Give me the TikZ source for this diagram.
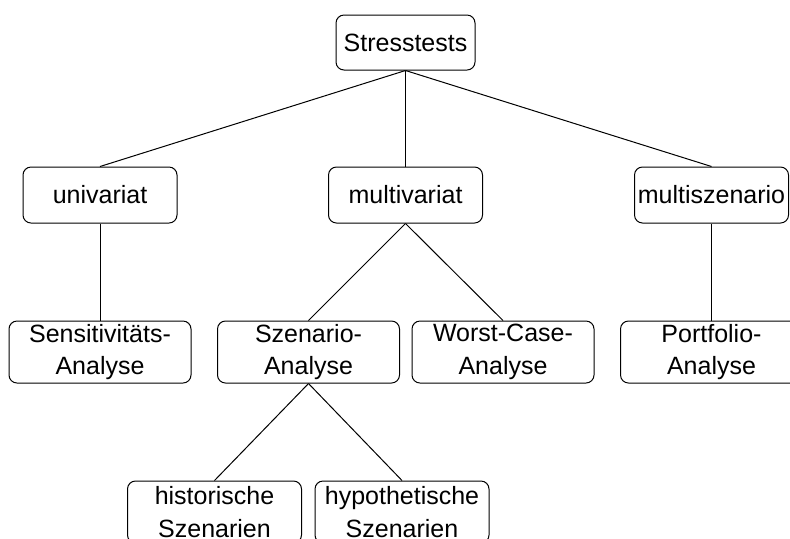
\documentclass[tikz,border=0pt]{standalone}
\usepackage{fontspec}
\setmainfont{Liberation Sans}

\newcommand\boxfont{\fontsize{12.5pt}{16.3pt}\selectfont}
\newcommand\rowa{42.5}
\newcommand\rowb{195}
\newcommand\rowc{352}
\newcommand\rowd{512}

\tikzset{
  treebox/.style={draw, line width=0.5pt, rounded corners=4pt, align=center,
    inner sep=0pt, font=\boxfont},
  toplevel/.style={treebox, minimum width=69.5pt, minimum height=27.5pt},
  kindbox/.style={treebox, minimum width=77pt, minimum height=28pt},
  methodbox/.style={treebox, minimum width=91pt, minimum height=31pt},
  sourcebox/.style={treebox, minimum width=87pt, minimum height=31pt},
  branch/.style={line width=0.5pt}
}

\begin{document}
\begin{tikzpicture}[x=0.5pt,y=-0.5pt]
    \useasboundingbox (0,0) rectangle (790,538);
    \clip (0,0) rectangle (790,538);

    \node[toplevel] (stress) at (405.5,\rowa) {Stresstests};

    \node[kindbox] (uni) at (100,\rowb) {univariat};
    \node[kindbox] (multi) at (405.5,\rowb) {multivariat};
    \node[kindbox] (multisz) at (711.5,\rowb) {multiszenario};

    \node[methodbox] (sens) at (100,\rowc) {Sensitivitäts-\\ Analyse};
    \node[methodbox] (szen) at (308.5,\rowc) {Szenario-\\ Analyse};
    \node[methodbox] (worst) at (503,\rowc) {Worst-Case-\\ Analyse};
    \node[methodbox] (portf) at (711.5,\rowc) {Portfolio-\\ Analyse};

    \node[sourcebox] (hist) at (214.5,\rowd) {historische\\ Szenarien};
    \node[sourcebox] (hypo) at (402,\rowd) {hypothetische\\ Szenarien};

    \draw[branch] (stress.south) -- (uni.north);
    \draw[branch] (stress.south) -- (multi.north);
    \draw[branch] (stress.south) -- (multisz.north);
    \draw[branch] (uni.south) -- (sens.north);
    \draw[branch] (multi.south) -- (szen.north);
    \draw[branch] (multi.south) -- (worst.north);
    \draw[branch] (multisz.south) -- (portf.north);
    \draw[branch] (szen.south) -- (hist.north);
    \draw[branch] (szen.south) -- (hypo.north);
  \end{tikzpicture}
\end{document}
